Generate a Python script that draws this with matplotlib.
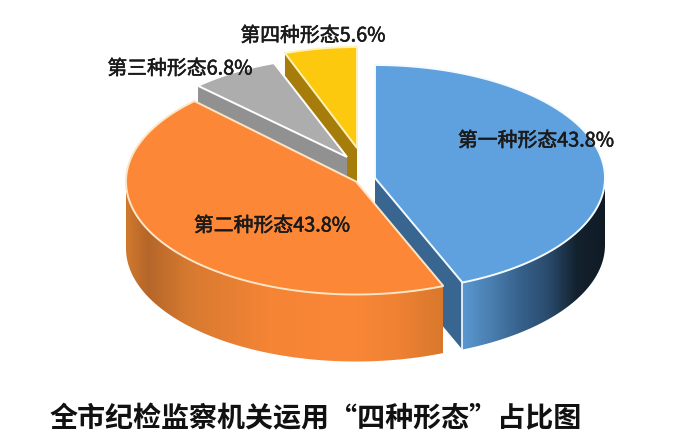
# -*- coding: utf-8 -*-
"""Exploded 3D-look pie: share of the four forms, clockwise from twelve o'clock."""
import numpy as np
import matplotlib
matplotlib.use('Agg')
import matplotlib.pyplot as plt
import matplotlib.patheffects as pe
from matplotlib.colors import LinearSegmentedColormap
from matplotlib.patches import Polygon

plt.rcParams['font.family'] = ['Noto Sans CJK SC', 'DejaVu Sans']

names = ['第一种形态', '第二种形态', '第三种形态', '第四种形态']
shares = [43.8, 43.8, 6.8, 5.6]
title = '全市纪检监察机关运用“四种形态”占比图'

# slice layout in pixels: apex x, apex y, radius x, radius y
layout = [(375, 178, 230, 113),
          (356, 181.5, 230, 113),
          (347, 157, 212, 100),
          (357, 148, 209, 101)]
depth = 67
top_cols = ['#5ea1de', '#fb8737', '#adadad', '#fdc90f']
cut_cols = ['#386690', '#d9782c', '#919191', '#a67c0a']
edge_cols = ['#f4fbff', '#fde6c8', '#ffffff', '#fff2b8']
label_pos = [(536, 141), (272, 226), (180, 69), (313, 36)]

blue_side = LinearSegmentedColormap.from_list(
    'b', ['#5a97d0', '#4a7fb0', '#37628c', '#2a4c6e', '#14222f', '#0f1a24'])
orange_side = LinearSegmentedColormap.from_list(
    'o', [(0, '#d27a2e'), (0.07, '#b5662a'), (0.2, '#d67a30'), (0.45, '#f58435'),
          (0.7, '#fa8737'), (0.85, '#f08234'), (1, '#d9782c')])


def arc(k, a0, a1, n=120):
    cx, cy, rx, ry = layout[k]
    t = np.radians(np.linspace(a0, a1, n))
    return np.column_stack([cx + rx * np.cos(t), cy - ry * np.sin(t)])


def draw_cut(ax, k, ang, z):
    cx, cy, _, _ = layout[k]
    p = arc(k, ang, ang, 1)[0]
    pts = [(cx, cy), p, (p[0], p[1] + depth), (cx, cy + depth)]
    ax.add_patch(Polygon(pts, closed=True, fc=cut_cols[k], ec='none', zorder=z))


def draw_rim(ax, k, a0, a1, cmap, x0, x1, z):
    # outer wall, horizontal shading through a clipped image
    top = arc(k, a0, a1)
    low = top[::-1] + [0, depth]
    poly = Polygon(np.vstack([top, low]), closed=True, fc='none', ec='none')
    ax.add_patch(poly)
    grad = np.linspace(0, 1, 256).reshape(1, -1)
    im = ax.imshow(grad, cmap=cmap, extent=(x0, x1, 460, 0), aspect='auto', zorder=z)
    im.set_clip_path(poly)


def draw_top(ax, k, a0, a1, z):
    cx, cy, _, _ = layout[k]
    pts = np.vstack([[(cx, cy)], arc(k, a0, a1)])
    ax.add_patch(Polygon(pts, closed=True, fc=top_cols[k], ec=edge_cols[k], lw=1.4,
                         joinstyle='miter', zorder=z))


fig = plt.figure(figsize=(7.0, 4.47), dpi=100)
ax = fig.add_axes([0, 0, 1, 1])

# wedge angles follow from the shares, clockwise from 90 degrees
ends = 90 - np.cumsum(shares) * 3.6
starts = np.concatenate([[90], ends[:-1]])
starts = starts + 360 * (starts < -180)
ends = ends + 360 * (ends < -180)

# back slices first: yellow, gray, blue, then orange on top of the blue cut face
draw_cut(ax, 3, starts[3], 1)
draw_top(ax, 3, starts[3], ends[3], 2)

draw_cut(ax, 2, starts[2], 3)
draw_top(ax, 2, starts[2], ends[2], 4)

draw_cut(ax, 0, ends[0], 5)
draw_rim(ax, 0, ends[0], 0, blue_side, 462, 605, 6)
draw_top(ax, 0, starts[0], ends[0], 7)
p = arc(0, ends[0], ends[0], 1)[0]
ax.plot([p[0], p[0]], [p[1], p[1] + depth], color=edge_cols[0], lw=1.2, zorder=7)

draw_rim(ax, 1, -180, starts[1], orange_side, 125, 443, 8)
draw_top(ax, 1, starts[1], -360 + ends[1], 9)

for k in range(4):
    ax.text(label_pos[k][0], label_pos[k][1], '%s%.1f%%' % (names[k], shares[k]),
            fontsize=14.3, color='#1a1a1a', ha='center', va='center', zorder=10,
            path_effects=[pe.withStroke(linewidth=0.4, foreground='#1a1a1a')])

ax.text(316, 419, title, fontsize=20.2, fontweight='bold', color='#111111',
        ha='center', va='center', zorder=10)

ax.set_xlim(0, 700)
ax.set_ylim(447, 0)
ax.axis('off')
fig.savefig('out.png', dpi=100, facecolor='white')
